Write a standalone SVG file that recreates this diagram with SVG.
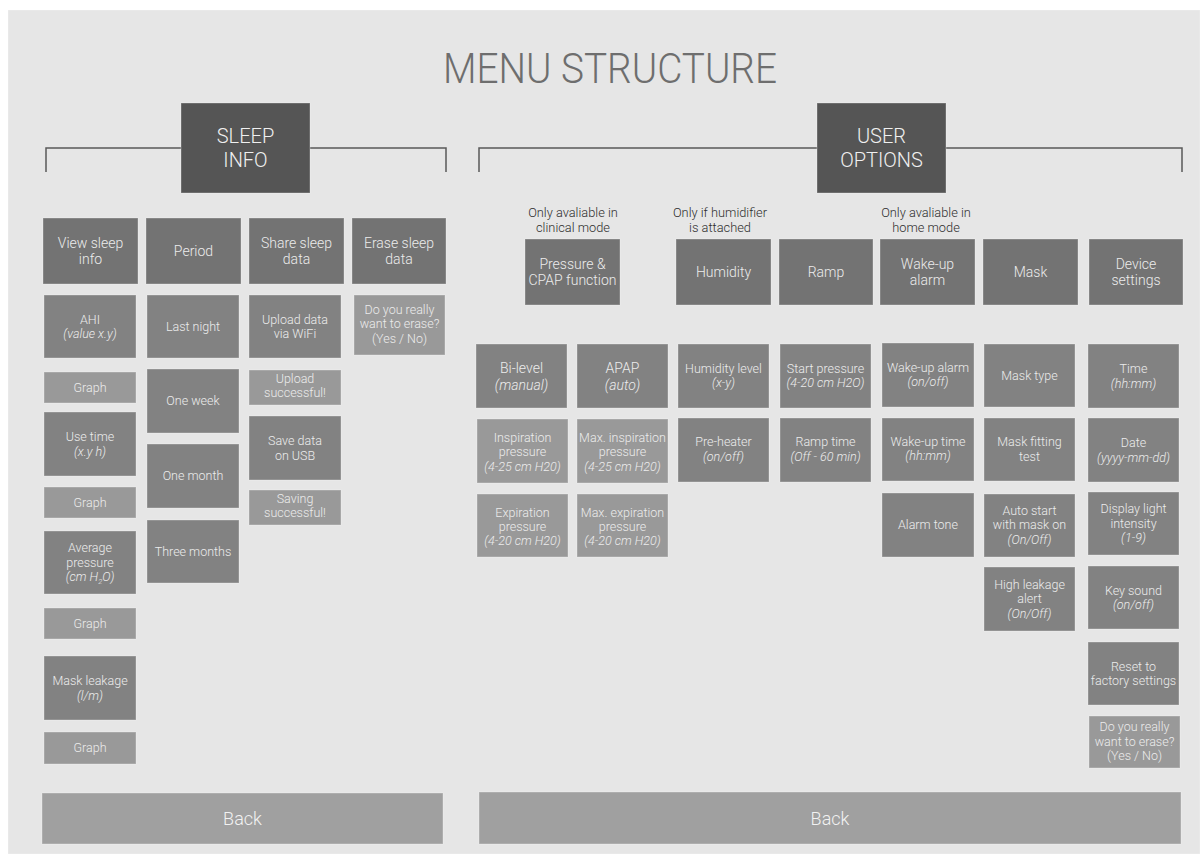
<svg xmlns="http://www.w3.org/2000/svg" width="1200" height="854" viewBox="0 0 1200 854">
  <style>
    text { font-family: Roboto, "Liberation Sans", "DejaVu Sans", sans-serif; font-weight: 300; text-anchor: middle; fill: #ececec; }
    .title { font-size: 42px; fill: #6e6e6e; }
    .head { font-size: 20px; fill: #f0f0f0; }
    .lg { font-size: 14px; }
    .sm { font-size: 12.5px; }
    .note { font-size: 12.8px; fill: #2e2e2e; }
    .backt { font-size: 18px; fill: #f2f2f2; }
    .it { font-style: italic; }
    rect { stroke: #ffffff; stroke-opacity: 0.3; stroke-width: 1; }
    .hub { fill: #555555; }
    .top { fill: #737373; }
    .mid { fill: #828282; }
    .lite { fill: #999999; }
    .back { fill: #a0a0a0; }
    .wire { fill: none; stroke: #5a5a5a; stroke-width: 1.5; }
  </style>

  <rect x="8" y="10" width="1192" height="844" fill="#e6e6e6" stroke="none"/>

  <text class="title" x="610" y="83" textLength="334" lengthAdjust="spacingAndGlyphs">MENU STRUCTURE</text>

  <!-- brackets under the two section headers -->
  <g id="connectors">
    <path class="wire" d="M46,172 V148 H446 V172"/>
    <path class="wire" d="M479,172 V148 H1182 V172"/>
  </g>

  <!-- ===== Sleep info ===== -->
  <g id="sleep-info">
    <rect class="hub" x="181" y="103" width="129" height="90"/>
    <text class="head" x="245.5" y="143">SLEEP</text>
    <text class="head" x="245.5" y="167">INFO</text>
  </g>

  <g id="view-sleep-info">
    <rect class="top" x="43" y="218" width="95" height="66"/>
    <text class="lg" x="90.5" y="247.5">View sleep<tspan x="90.5" dy="16.5">info</tspan></text>
  </g>
  <g id="period">
    <rect class="top" x="146" y="218" width="95" height="66"/>
    <text class="lg" x="193.5" y="255.7">Period</text>
  </g>
  <g id="share-sleep-data">
    <rect class="top" x="249" y="218" width="95" height="66"/>
    <text class="lg" x="296.5" y="247.5">Share sleep<tspan x="296.5" dy="16.5">data</tspan></text>
  </g>
  <g id="erase-sleep-data">
    <rect class="top" x="352" y="218" width="94" height="66"/>
    <text class="lg" x="399" y="247.5">Erase sleep<tspan x="399" dy="16.5">data</tspan></text>
  </g>

  <!-- view sleep info column -->
  <g id="ahi">
    <rect class="mid" x="44" y="295" width="92" height="63"/>
    <text class="sm" x="90" y="323.5">AHI<tspan class="it" x="90" dy="14.5">(value x.y)</tspan></text>
  </g>
  <g id="ahi-graph">
    <rect class="lite" x="44" y="372" width="92" height="31"/>
    <text class="sm" x="90" y="391.7">Graph</text>
  </g>
  <g id="use-time">
    <rect class="mid" x="44" y="412" width="92" height="64"/>
    <text class="sm" x="90" y="441">Use time<tspan class="it" x="90" dy="14.5">(x.y h)</tspan></text>
  </g>
  <g id="use-time-graph">
    <rect class="lite" x="44" y="487" width="92" height="31"/>
    <text class="sm" x="90" y="506.7">Graph</text>
  </g>
  <g id="average-pressure">
    <rect class="mid" x="44" y="531" width="92" height="63"/>
    <text class="sm" x="90" y="552.2">Average<tspan x="90" dy="14.5">pressure</tspan><tspan class="it" x="90" dy="14.5">(cm H</tspan><tspan class="it" font-size="7.5" dy="3">2</tspan><tspan class="it" dy="-3">O)</tspan></text>
  </g>
  <g id="pressure-graph">
    <rect class="lite" x="44" y="608" width="92" height="31"/>
    <text class="sm" x="90" y="627.7">Graph</text>
  </g>
  <g id="mask-leakage">
    <rect class="mid" x="44" y="656" width="92" height="64"/>
    <text class="sm" x="90" y="685">Mask leakage<tspan class="it" x="90" dy="14.5">(l/m)</tspan></text>
  </g>
  <g id="leakage-graph">
    <rect class="lite" x="44" y="732" width="92" height="32"/>
    <text class="sm" x="90" y="752.2">Graph</text>
  </g>

  <!-- period column -->
  <g id="last-night">
    <rect class="mid" x="147" y="295" width="92" height="63"/>
    <text class="sm" x="193" y="330.7">Last night</text>
  </g>
  <g id="one-week">
    <rect class="mid" x="147" y="369" width="92" height="64"/>
    <text class="sm" x="193" y="405.2">One week</text>
  </g>
  <g id="one-month">
    <rect class="mid" x="147" y="444" width="92" height="64"/>
    <text class="sm" x="193" y="480.2">One month</text>
  </g>
  <g id="three-months">
    <rect class="mid" x="147" y="520" width="92" height="63"/>
    <text class="sm" x="193" y="555.7">Three months</text>
  </g>

  <!-- share column -->
  <g id="upload-wifi">
    <rect class="mid" x="249" y="295" width="92" height="63"/>
    <text class="sm" x="295" y="323.5">Upload data<tspan x="295" dy="14.5">via WiFi</tspan></text>
  </g>
  <g id="upload-ok">
    <rect class="lite" x="249" y="370" width="92" height="35"/>
    <text class="sm" x="295" y="383">Upload<tspan x="295" dy="14">successful!</tspan></text>
  </g>
  <g id="save-usb">
    <rect class="mid" x="249" y="416" width="92" height="64"/>
    <text class="sm" x="295" y="445">Save data<tspan x="295" dy="14.5">on USB</tspan></text>
  </g>
  <g id="save-ok">
    <rect class="lite" x="249" y="490" width="92" height="35"/>
    <text class="sm" x="295" y="503">Saving<tspan x="295" dy="14">successful!</tspan></text>
  </g>

  <!-- erase column -->
  <g id="erase-confirm">
    <rect class="lite" x="354" y="295" width="91" height="60"/>
    <text class="sm" x="399.5" y="313.5">Do you really<tspan x="399.5" dy="14.5">want to erase?</tspan><tspan x="399.5" dy="14.5">(Yes / No)</tspan></text>
  </g>

  <g id="back-left">
    <rect class="back" x="42" y="793" width="401" height="51"/>
    <text class="backt" x="242.5" y="825">Back</text>
  </g>

  <!-- ===== User options ===== -->
  <g id="user-options">
    <rect class="hub" x="817" y="103" width="129" height="90"/>
    <text class="head" x="881.5" y="143">USER</text>
    <text class="head" x="881.5" y="167">OPTIONS</text>
  </g>

  <g id="notes">
    <text class="note" x="573" y="217">Only avaliable in<tspan x="573" dy="15">clinical mode</tspan></text>
    <text class="note" x="720" y="217">Only if humidifier<tspan x="720" dy="15">is attached</tspan></text>
    <text class="note" x="926" y="217">Only avaliable in<tspan x="926" dy="15">home mode</tspan></text>
  </g>

  <g id="pressure-cpap">
    <rect class="top" x="525" y="239" width="95" height="66"/>
    <text class="lg" x="572.5" y="268.5">Pressure &amp;<tspan x="572.5" dy="16.5">CPAP function</tspan></text>
  </g>
  <g id="humidity">
    <rect class="top" x="676" y="239" width="95" height="66"/>
    <text class="lg" x="723.5" y="276.7">Humidity</text>
  </g>
  <g id="ramp">
    <rect class="top" x="779" y="239" width="94" height="66"/>
    <text class="lg" x="826" y="276.7">Ramp</text>
  </g>
  <g id="wake-up-alarm">
    <rect class="top" x="880" y="239" width="95" height="66"/>
    <text class="lg" x="927.5" y="268.5">Wake-up<tspan x="927.5" dy="16.5">alarm</tspan></text>
  </g>
  <g id="mask">
    <rect class="top" x="983" y="239" width="95" height="66"/>
    <text class="lg" x="1030.5" y="276.7">Mask</text>
  </g>
  <g id="device-settings">
    <rect class="top" x="1089" y="239" width="94" height="66"/>
    <text class="lg" x="1136" y="268.5">Device<tspan x="1136" dy="16.5">settings</tspan></text>
  </g>

  <!-- pressure / cpap column -->
  <g id="bi-level">
    <rect class="mid" x="476" y="344" width="91" height="64"/>
    <text class="lg" x="521.5" y="372.5">Bi-level<tspan class="it" x="521.5" dy="17">(manual)</tspan></text>
  </g>
  <g id="apap">
    <rect class="mid" x="577" y="344" width="91" height="64"/>
    <text class="lg" x="622.5" y="372.5">APAP<tspan class="it" x="622.5" dy="17">(auto)</tspan></text>
  </g>
  <g id="inspiration">
    <rect class="lite" x="477" y="419" width="91" height="64"/>
    <text class="sm" x="522.5" y="442">Inspiration<tspan x="522.5" dy="14.3">pressure</tspan><tspan class="it" x="522.5" dy="14.3">(4-25 cm H20)</tspan></text>
  </g>
  <g id="max-inspiration">
    <rect class="lite" x="577" y="419" width="91" height="64"/>
    <text class="sm" x="622.5" y="442">Max. inspiration<tspan x="622.5" dy="14.3">pressure</tspan><tspan class="it" x="622.5" dy="14.3">(4-25 cm H20)</tspan></text>
  </g>
  <g id="expiration">
    <rect class="lite" x="477" y="494" width="91" height="63"/>
    <text class="sm" x="522.5" y="516.5">Expiration<tspan x="522.5" dy="14.3">pressure</tspan><tspan class="it" x="522.5" dy="14.3">(4-20 cm H20)</tspan></text>
  </g>
  <g id="max-expiration">
    <rect class="lite" x="577" y="494" width="91" height="63"/>
    <text class="sm" x="622.5" y="516.5">Max. expiration<tspan x="622.5" dy="14.3">pressure</tspan><tspan class="it" x="622.5" dy="14.3">(4-20 cm H20)</tspan></text>
  </g>

  <!-- humidity column -->
  <g id="humidity-level">
    <rect class="mid" x="678" y="344" width="91" height="64"/>
    <text class="sm" x="723.5" y="372.5">Humidity level<tspan class="it" x="723.5" dy="14.5">(x-y)</tspan></text>
  </g>
  <g id="pre-heater">
    <rect class="mid" x="678" y="418" width="91" height="64"/>
    <text class="sm" x="723.5" y="446">Pre-heater<tspan class="it" x="723.5" dy="14.5">(on/off)</tspan></text>
  </g>

  <!-- ramp column -->
  <g id="start-pressure">
    <rect class="mid" x="780" y="344" width="91" height="64"/>
    <text class="sm" x="825.5" y="372.5">Start pressure<tspan class="it" x="825.5" dy="14.5">(4-20 cm H2O)</tspan></text>
  </g>
  <g id="ramp-time">
    <rect class="mid" x="780" y="418" width="91" height="64"/>
    <text class="sm" x="825.5" y="446">Ramp time<tspan class="it" x="825.5" dy="14.5">(Off - 60 min)</tspan></text>
  </g>

  <!-- wake-up column -->
  <g id="alarm-on-off">
    <rect class="mid" x="882" y="343" width="92" height="64"/>
    <text class="sm" x="928" y="371.5">Wake-up alarm<tspan class="it" x="928" dy="14.5">(on/off)</tspan></text>
  </g>
  <g id="wake-up-time">
    <rect class="mid" x="882" y="418" width="92" height="63"/>
    <text class="sm" x="928" y="445.5">Wake-up time<tspan class="it" x="928" dy="14.5">(hh:mm)</tspan></text>
  </g>
  <g id="alarm-tone">
    <rect class="mid" x="882" y="493" width="92" height="64"/>
    <text class="sm" x="928" y="529.2">Alarm tone</text>
  </g>

  <!-- mask column -->
  <g id="mask-type">
    <rect class="mid" x="984" y="344" width="91" height="63"/>
    <text class="sm" x="1029.5" y="379.7">Mask type</text>
  </g>
  <g id="mask-fitting">
    <rect class="mid" x="984" y="418" width="91" height="63"/>
    <text class="sm" x="1029.5" y="446">Mask fitting<tspan x="1029.5" dy="14.5">test</tspan></text>
  </g>
  <g id="auto-start">
    <rect class="mid" x="984" y="494" width="91" height="63"/>
    <text class="sm" x="1029.5" y="514.7">Auto start<tspan x="1029.5" dy="14.5">with mask on</tspan><tspan class="it" x="1029.5" dy="14.5">(On/Off)</tspan></text>
  </g>
  <g id="high-leakage">
    <rect class="mid" x="984" y="567" width="91" height="64"/>
    <text class="sm" x="1029.5" y="588.7">High leakage<tspan x="1029.5" dy="14.5">alert</tspan><tspan class="it" x="1029.5" dy="14.5">(On/Off)</tspan></text>
  </g>

  <!-- device settings column -->
  <g id="time">
    <rect class="mid" x="1088" y="344" width="91" height="64"/>
    <text class="sm" x="1133.5" y="373">Time<tspan class="it" x="1133.5" dy="14.5">(hh:mm)</tspan></text>
  </g>
  <g id="date">
    <rect class="mid" x="1088" y="418" width="91" height="64"/>
    <text class="sm" x="1133.5" y="447">Date<tspan class="it" x="1133.5" dy="14.5">(yyyy-mm-dd)</tspan></text>
  </g>
  <g id="display-light">
    <rect class="mid" x="1088" y="492" width="91" height="63"/>
    <text class="sm" x="1133.5" y="513.2">Display light<tspan x="1133.5" dy="14.5">intensity</tspan><tspan class="it" x="1133.5" dy="14.5">(1-9)</tspan></text>
  </g>
  <g id="key-sound">
    <rect class="mid" x="1088" y="566" width="91" height="63"/>
    <text class="sm" x="1133.5" y="594.5">Key sound<tspan class="it" x="1133.5" dy="14.5">(on/off)</tspan></text>
  </g>
  <g id="factory-reset">
    <rect class="mid" x="1088" y="642" width="91" height="63"/>
    <text class="sm" x="1133.5" y="670.5">Reset to<tspan x="1133.5" dy="14.5">factory settings</tspan></text>
  </g>
  <g id="reset-confirm">
    <rect class="lite" x="1089" y="716" width="91" height="52"/>
    <text class="sm" x="1134.5" y="731">Do you really<tspan x="1134.5" dy="14.5">want to erase?</tspan><tspan x="1134.5" dy="14.5">(Yes / No)</tspan></text>
  </g>

  <g id="back-right">
    <rect class="back" x="479" y="792" width="702" height="52"/>
    <text class="backt" x="830" y="824.5">Back</text>
  </g>
</svg>
